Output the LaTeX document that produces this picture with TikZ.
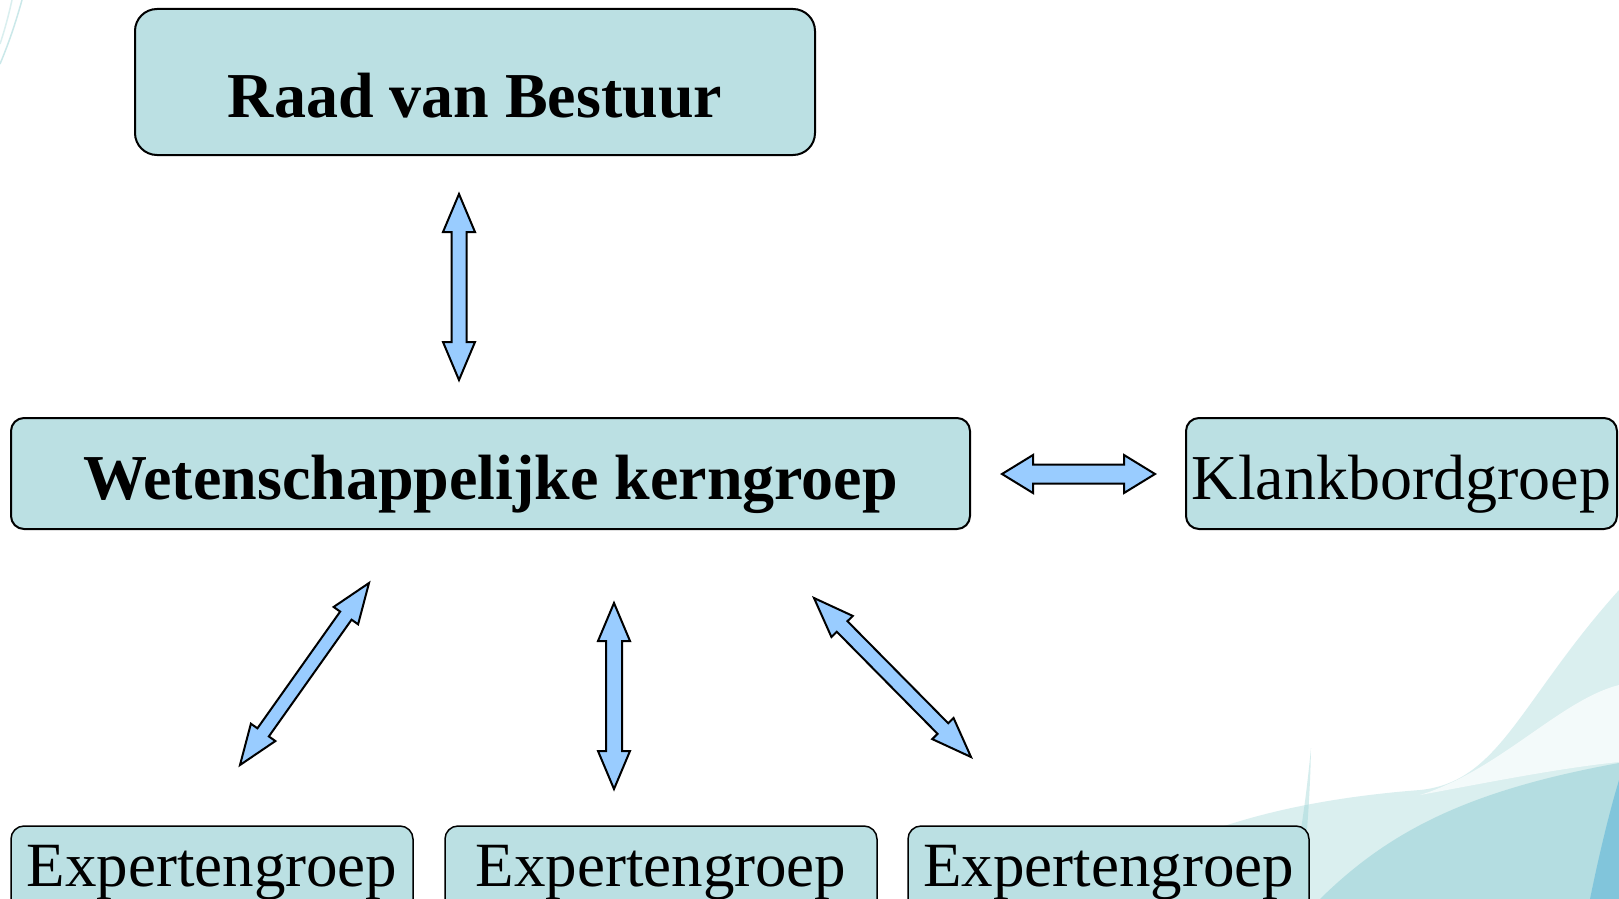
\documentclass[tikz,border=0pt]{standalone}
\usepackage{fontspec}
\setmainfont{Liberation Serif}
\usetikzlibrary{calc}
\definecolor{boxfill}{RGB}{187,224,227}
\definecolor{arrfill}{RGB}{153,204,255}
\definecolor{deco}{RGB}{150,210,212}
\definecolor{decodark}{RGB}{110,190,200}
\definecolor{decoblue}{RGB}{80,175,215}
\newcommand\dblarr[5]{%
  \draw[arrowshape] (#1)
   -- ($(#1)!#3!(#2)!#4!90:(#2)$)
   -- ($(#1)!#3!(#2)!#5!90:(#2)$)
   -- ($(#2)!#3!(#1)!#5!-90:(#1)$)
   -- ($(#2)!#3!(#1)!#4!-90:(#1)$)
   -- (#2)
   -- ($(#2)!#3!(#1)!#4!90:(#1)$)
   -- ($(#2)!#3!(#1)!#5!90:(#1)$)
   -- ($(#1)!#3!(#2)!#5!-90:(#2)$)
   -- ($(#1)!#3!(#2)!#4!-90:(#2)$)
   -- cycle;}
\tikzset{
  box/.style={draw=black, line width=2pt, fill=boxfill, inner sep=0pt, rounded corners=13pt},
  bigtext/.style={font=\fontsize{64}{70}\selectfont\bfseries},
  smalltext/.style={font=\fontsize{63}{70}\selectfont},
  arrowshape/.style={fill=arrfill, draw=black, line width=2pt, line join=miter},
}
\begin{document}
\begin{tikzpicture}[x=1pt,y=-1pt]
\clip (0,0) rectangle (1619,899);
\fill[white] (0,0) rectangle (1619,899);
% background decoration
\draw[deco, opacity=0.5, line width=1.5pt] (22,0) .. controls (15,25) and (8,45) .. (0,64);
\draw[deco, opacity=0.35, line width=1.5pt] (12,0) .. controls (8,18) and (4,32) .. (0,44);
\fill[deco, opacity=0.35] (1085,899) .. controls (1170,830) and (1290,800) .. (1420,790)
   .. controls (1500,782) and (1520,700) .. (1619,590) -- (1619,899) -- cycle;
\fill[white, opacity=0.7] (1420,795) .. controls (1500,770) and (1560,700) .. (1619,685)
   -- (1619,762) .. controls (1560,768) and (1490,782) .. (1420,795) -- cycle;
\fill[decodark, opacity=0.35] (1320,899) .. controls (1390,830) and (1470,790) .. (1619,763) -- (1619,899) -- cycle;
\fill[deco, opacity=0.4] (1311,748) .. controls (1306,800) and (1298,860) .. (1286,899) -- (1300,899) .. controls (1306,850) and (1310,800) .. (1311,748) -- cycle;
\fill[decoblue, opacity=0.5] (1590,899) .. controls (1600,850) and (1610,810) .. (1619,780) -- (1619,899) -- cycle;
% boxes
\node[box, rounded corners=22pt, bigtext, minimum width=680pt, text height=108pt, text depth=38pt] (raad) at (475,82) {Raad van Bestuur};
\node[box, bigtext, minimum width=959pt, text height=81pt, text depth=30pt] (kern) at (490.5,473.5) {Wetenschappelijke kerngroep};
\node[box, font=\fontsize{64}{70}\selectfont, minimum width=431pt, text height=81pt, text depth=30pt] (klank) at (1401.5,473.5) {Klankbordgroep};
\node[box, line width=1.5pt, smalltext, minimum width=402pt, text height=60pt, text depth=51pt] (exp1) at (212,881.5) {Expertengroep};
\node[box, line width=1.5pt, smalltext, minimum width=432pt, text height=60pt, text depth=51pt] (exp2) at (661,881.5) {Expertengroep};
\node[box, line width=1.5pt, smalltext, minimum width=401pt, text height=60pt, text depth=51pt] (exp3) at (1108.5,881.5) {Expertengroep};
% arrows
\coordinate (a1) at (459,194); \coordinate (b1) at (459,380);
\coordinate (a2) at (1002,474); \coordinate (b2) at (1155,474);
\coordinate (a3) at (369,583); \coordinate (b3) at (240,765);
\coordinate (a4) at (614,603); \coordinate (b4) at (614,789);
\coordinate (a5) at (814,598); \coordinate (b5) at (971,757);
\dblarr{a1}{b1}{38pt}{16pt}{7.5pt}
\dblarr{a2}{b2}{31pt}{19pt}{9.5pt}
\dblarr{a3}{b3}{40pt}{15pt}{7pt}
\dblarr{a4}{b4}{38pt}{16pt}{8pt}
\dblarr{a5}{b5}{40pt}{15pt}{7.5pt}
\end{tikzpicture}
\end{document}
